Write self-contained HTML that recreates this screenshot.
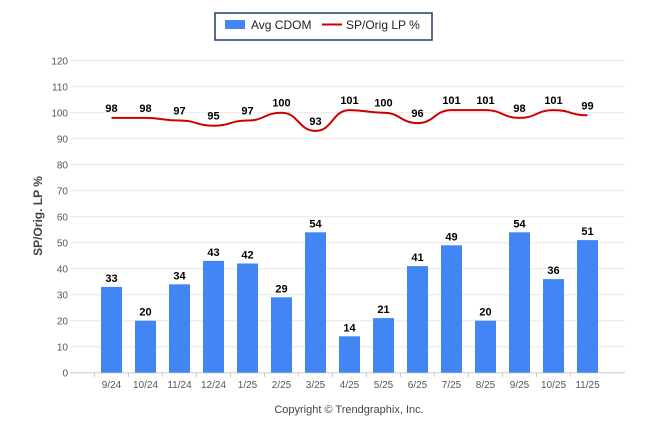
<!DOCTYPE html>
<html><head><meta charset="utf-8"><style>
body{margin:0;background:#fff;font-family:"Liberation Sans",sans-serif}
svg text{font-family:"Liberation Sans",sans-serif}
</style></head><body>
<svg id="c" width="646" height="434">
<g>
<rect x="215" y="13" width="217" height="27" fill="#fff" stroke="#1f3a6a" stroke-width="1.5"/>
<rect x="225" y="20" width="20" height="9" fill="#4285f4"/>
<text x="251" y="29" font-size="12" fill="#222">Avg CDOM</text>
<line x1="322" y1="24.5" x2="342" y2="24.5" stroke="#cc0000" stroke-width="2"/>
<text x="346" y="29" font-size="12" fill="#222">SP/Orig LP %</text>
</g>
<text transform="translate(42,216) rotate(-90)" text-anchor="middle" font-size="12" font-weight="bold" fill="#444">SP/Orig. LP %</text>
<text x="349" y="413" text-anchor="middle" font-size="11" fill="#444">Copyright © Trendgraphix, Inc.</text>
<g id="grid"></g><g id="bars"></g><g id="line"></g><g id="labels"></g>
</svg>
<script>
const categories=["9/24","10/24","11/24","12/24","1/25","2/25","3/25","4/25","5/25","6/25","7/25","8/25","9/25","10/25","11/25"];
const cdom=[33,20,34,43,42,29,54,14,21,41,49,20,54,36,51];
const lp=[98,98,97,95,97,100,93,101,100,96,101,101,98,101,99];
const yTicks=[0,10,20,30,40,50,60,70,80,90,100,110,120];
const NS="http://www.w3.org/2000/svg";
const y=v=>372.7-v*2.6, x=i=>111.5+34*i;
function mk(t,a,p){const e=document.createElementNS(NS,t);for(const k in a)e.setAttribute(k,a[k]);p.appendChild(e);return e;}
const g=document.getElementById('grid');
yTicks.forEach(v=>{
 const l=mk('line',{x1:70,x2:625,y1:y(v),y2:y(v),stroke:v===0?'#ccc':'#e8e8e8'},g);
 
 
 const t=mk('text',{x:68,y:y(v)+4,'text-anchor':'end','font-size':10,fill:'#555'},g);t.textContent=v;
 
 
});
categories.forEach((c,i)=>{
 const t=mk('text',{x:x(i),y:388,'text-anchor':'middle','font-size':10,fill:'#555'},g);t.textContent=c;
 
 
 const tk=mk('line',{x1:x(i)-17,x2:x(i)-17,y1:373,y2:377,stroke:'#ccc'},g);
 
 
});
const b=document.getElementById('bars'),lb=document.getElementById('labels');
cdom.forEach((v,i)=>{
 const r=mk('rect',{x:x(i)-10.5,y:y(v),width:21,height:y(0)-y(v),fill:'#4285f4'},b);
 
 
 const t=mk('text',{x:x(i),y:y(v)-5,'text-anchor':'middle','font-size':11,'font-weight':'bold',fill:'#000'},lb);t.textContent=v;
 
 
});
let d='M'+x(0)+','+y(lp[0]);
for(let i=1;i<lp.length;i++){const cx=(x(i-1)+x(i))/2;d+=' C'+cx+','+y(lp[i-1])+' '+cx+','+y(lp[i])+' '+x(i)+','+y(lp[i]);}
const p=mk('path',{d:d,fill:'none',stroke:'#cc0000','stroke-width':2},document.getElementById('line'));


lp.forEach((v,i)=>{
 const t=mk('text',{x:x(i),y:y(v)-6,'text-anchor':'middle','font-size':11,'font-weight':'bold',fill:'#000'},lb);t.textContent=v;
 
 
});
</script>
</body></html>
